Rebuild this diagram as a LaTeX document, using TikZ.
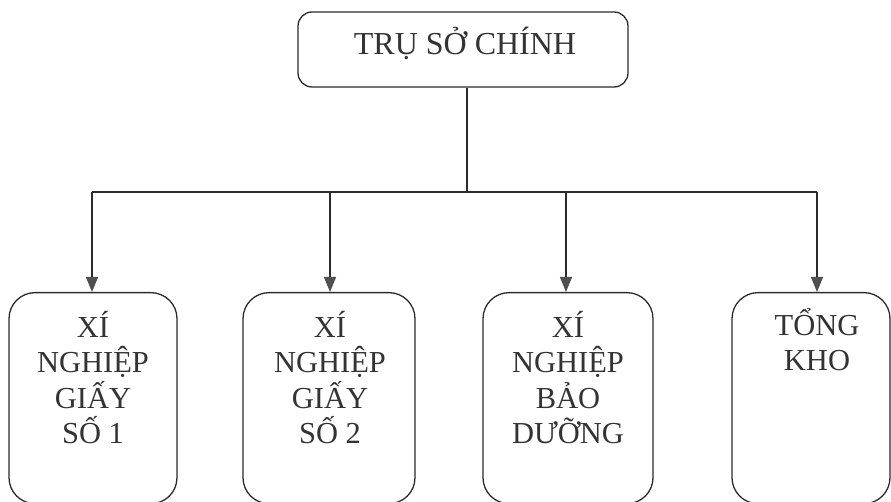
\documentclass[tikz,border=0pt]{standalone}
\usepackage{fontspec}
\setmainfont{Liberation Serif}
\usetikzlibrary{arrows.meta}
\definecolor{ln}{HTML}{2B2B2B}
\definecolor{tx}{HTML}{333333}
\definecolor{ah}{HTML}{505050}
\begin{document}
\begin{tikzpicture}[x=1pt,y=-1pt,
  topbox/.style={draw=ln, line width=1.3pt, rounded corners=14pt, minimum width=330pt, minimum height=75pt, inner sep=0pt},
  unitbox/.style={draw=ln, line width=1.3pt, rounded corners=26pt, inner sep=0pt, anchor=north, minimum height=211pt},
  lbl/.style={text=tx, font=\fontsize{30.5}{35.5}\selectfont, align=center, inner sep=0pt, anchor=north},
  toplbl/.style={text=tx, font=\fontsize{32}{36}\selectfont, inner sep=0pt, anchor=base},
  conn/.style={draw=ln, line width=1.3pt},
  arr/.style={conn, -{Triangle[width=12pt,length=15pt,fill=ah,color=ah]}}]
\useasboundingbox (0,0) rectangle (891,502);
\clip (0,0) rectangle (891,502);
% top box
\node[topbox] (top) at (463,49.5) {};
\node[toplbl] (toptext) at (465,55) {TRỤ SỞ CHÍNH};
% bottom boxes
\node[unitbox, minimum width=168pt] (b1) at (93,292) {};
\node[unitbox, minimum width=172pt] (b2) at (329,292) {};
\node[unitbox, minimum width=170pt] (b3) at (568,292) {};
\node[unitbox, minimum width=158pt] (b4) at (811,292) {};
% labels
\node[lbl] (t1) at (93,304) {\rule{0pt}{33pt}XÍ\\NGHIỆP\\GIẤY\\SỐ 1};
\node[lbl] (t2) at (330,304) {\rule{0pt}{33pt}XÍ\\NGHIỆP\\GIẤY\\SỐ 2};
\node[lbl] (t3) at (568,304) {\rule{0pt}{33pt}XÍ\\NGHIỆP\\BẢO\\DƯỠNG};
\node[lbl] (t4) at (817,302) {\rule{0pt}{33pt}TỔNG\\KHO};
% connectors
\coordinate (hub) at (467,192);
\coordinate (j1) at (92,192);
\coordinate (j2) at (330,192);
\coordinate (j3) at (566,192);
\coordinate (j4) at (817,192);
\draw[conn] (hub |- top.south) -- (hub);
\draw[conn] (j1) -- (j4);
\draw[arr] (j1) -- (j1 |- b1.north);
\draw[arr] (j2) -- (j2 |- b2.north);
\draw[arr] (j3) -- (j3 |- b3.north);
\draw[arr] (j4) -- (j4 |- b4.north);
\end{tikzpicture}
\end{document}
